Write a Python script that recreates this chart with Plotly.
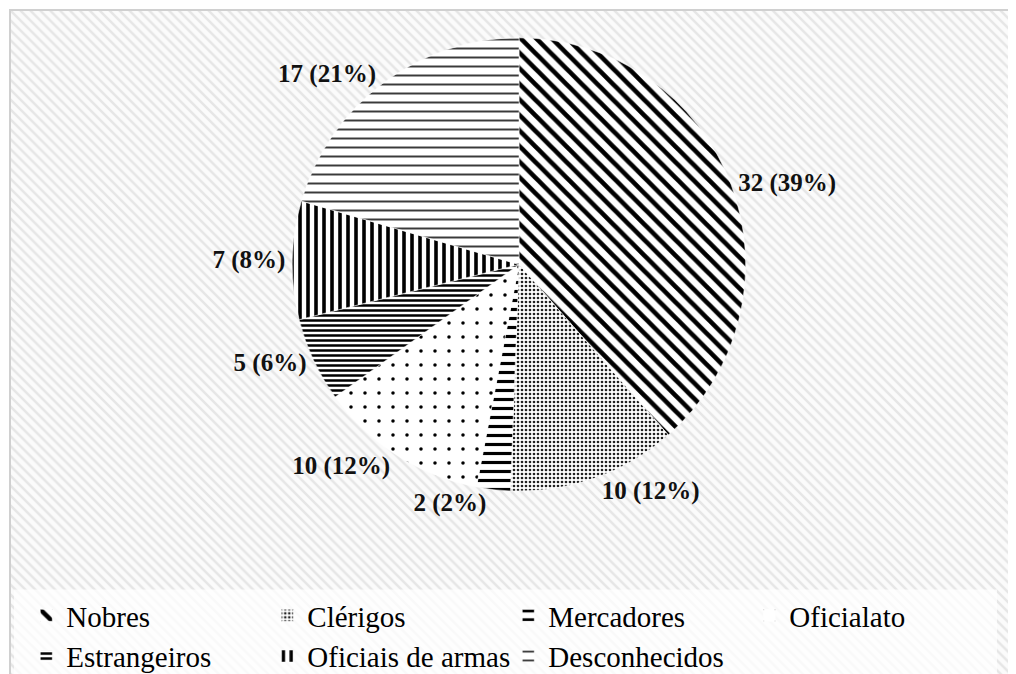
import plotly.graph_objects as go

categories = ["Nobres", "Clérigos", "Mercadores", "Oficialato",
              "Estrangeiros", "Oficiais de armas", "Desconhecidos"]
values = [32, 10, 2, 10, 5, 7, 17]
pct_labels = ["39%", "12%", "2%", "12%", "6%", "8%", "21%"]

pattern_shapes = ["\\", ".", "-", ".", "-", "|", "-"]
pattern_sizes = [11, 4, 9, 14, 5, 8, 9]
pattern_solid = [0.42, 0.35, 0.35, 0.05, 0.5, 0.45, 0.22]
pattern_fg = ["black", "#222222", "black", "black", "black", "black", "#3a3a3a"]

SERIF = "Times New Roman, Liberation Serif, Tinos, serif"

W, H = 1016, 674
OFF = 8  # page body margin
cx, cy, R = 519 - OFF, 266 - OFF, 228

fig = go.Figure()

# faint hatched chart background
fig.add_trace(go.Scatter(
    x=[0, 1, 1, 0, 0], y=[0, 0, 1, 1, 0], mode="none", fill="toself",
    fillcolor="white",
    fillpattern=dict(shape="\\", fgcolor="#e6e6e6", bgcolor="#fbfbfb", size=7,
                     solidity=0.35, fgopacity=1),
    showlegend=False, hoverinfo="skip", xaxis="x", yaxis="y"))

fig.add_trace(go.Pie(
    labels=categories, values=values, text=pct_labels,
    sort=False, direction="clockwise", rotation=0,
    texttemplate="%{value} (%{text})", textposition="outside",
    textfont=dict(family=SERIF, size=25, color="#111111", weight="bold"),
    marker=dict(
        colors=["white"] * 7,
        line=dict(color="white", width=0.5),
        pattern=dict(shape=pattern_shapes, size=pattern_sizes,
                     solidity=pattern_solid, fgcolor=pattern_fg,
                     bgcolor="white", fgopacity=1, fillmode="replace"),
    ),
    domain=dict(x=[(cx - R) / W, (cx + R) / W],
                y=[(H - cy - R) / H, (H - cy + R) / H]),
    hoverinfo="label+value+percent",
))

fig.update_layout(
    width=W, height=H,
    margin=dict(l=0, r=0, t=0, b=0),
    paper_bgcolor="white",
    plot_bgcolor="rgba(0,0,0,0)",
    xaxis=dict(domain=[2 / W, 1], range=[0, 1], visible=False, fixedrange=True),
    yaxis=dict(domain=[0, 1 - 2 / H], range=[0, 1], visible=False, fixedrange=True),
    showlegend=True,
    legend=dict(
        orientation="h", x=0.018, xanchor="left", y=0.062, yanchor="middle",
        font=dict(family=SERIF, size=29, color="black"),
        entrywidth=196, entrywidthmode="pixels",
        bgcolor="rgba(0,0,0,0)", itemclick=False, itemdoubleclick=False,
    ),
    shapes=[
        dict(type="rect", xref="paper", yref="paper",
             x0=2 / W, x1=1.01, y0=-0.01, y1=1 - 2 / H,
             line=dict(color="#d0d0d0", width=2), fillcolor="rgba(0,0,0,0)",
             layer="above"),
        dict(type="rect", xref="paper", yref="paper",
             x0=6 / W, x1=(997 - OFF) / W, y0=0, y1=(H - (593 - OFF)) / H,
             line=dict(width=0), fillcolor="rgba(255,255,255,0.75)",
             layer="above"),
    ],
)

fig.write_html("out.html")
